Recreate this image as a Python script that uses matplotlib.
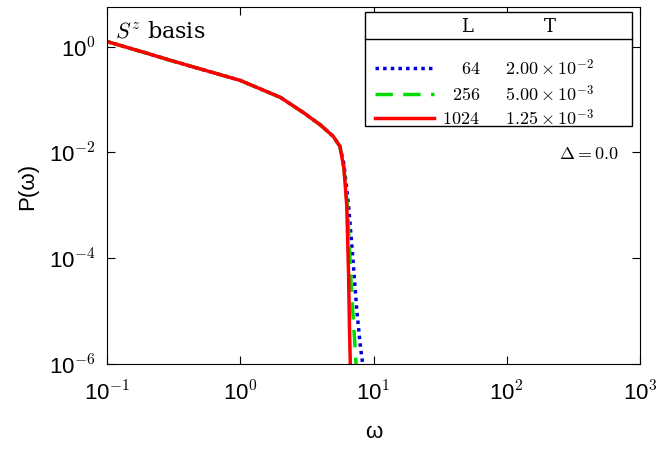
import numpy as np
import matplotlib
matplotlib.use("Agg")
import matplotlib.pyplot as plt
from matplotlib.lines import Line2D
from matplotlib.patches import Rectangle

omega_common = [0.1, 0.2, 0.3, 0.5, 1.0, 2.0, 3.0, 4.0, 5.0, 5.6]
p_common = [1.25, 0.75, 0.55, 0.38, 0.23, 0.11, 0.056, 0.033, 0.020, 0.013]
omega_64 = omega_common + [6.0, 6.5, 7.0, 7.5, 8.0, 8.3]
p_64 = p_common + [0.006, 1e-3, 1e-4, 1e-5, 2e-6, 1e-6]
omega_256 = omega_common + [6.0, 6.4, 6.8, 7.2, 7.4]
p_256 = p_common + [0.005, 8e-4, 3e-5, 3e-6, 1e-6]
omega_1024 = omega_common + [6.0, 6.3, 6.5, 6.6, 6.7]
p_1024 = p_common + [0.005, 1e-3, 5e-5, 5e-6, 1e-6]
L_labels = ["64", "256", "1024"]
T_labels = [r"$2.00\times10^{-2}$", r"$5.00\times10^{-3}$", r"$1.25\times10^{-3}$"]

plt.rcParams['mathtext.fontset'] = 'cm'
fig = plt.figure(figsize=(6.64, 4.52), dpi=100)
ax = fig.add_axes([107/664, 1-365/452, 533/664, 357/452])
styles = [dict(color='#0000dd', ls=(0, (1, 1.2)), lw=2.5),
          dict(color='#00dd00', ls=(0, (5, 3)), lw=2.5),
          dict(color='#ff0000', ls='-', lw=2.5)]
for (x, y), st in zip([(omega_64, p_64), (omega_256, p_256), (omega_1024, p_1024)], styles):
    ax.plot(x, y, **st)
ax.set_xscale('log'); ax.set_yscale('log')
ax.set_xlim(0.1, 1000); ax.set_ylim(1e-6, 10**0.75)
ax.set_xticks([0.1, 1, 10, 100, 1000])
ax.set_xticklabels([r"10$^{-1}$", r"10$^{0}$", r"10$^{1}$", r"10$^{2}$", r"10$^{3}$"])
ax.set_yticks([1e-6, 1e-4, 1e-2, 1])
ax.set_yticklabels([r"10$^{-6}$", r"10$^{-4}$", r"10$^{-2}$", r"10$^{0}$"])
ax.minorticks_off()
ax.tick_params(labelsize=16, direction='in', length=6, top=True, right=True)
ax.tick_params(axis='x', pad=12)
ax.tick_params(axis='y', pad=8)
for lab in ax.get_xticklabels() + ax.get_yticklabels():
    lab.set_fontfamily('Liberation Sans')
ax.set_xlabel("ω", fontsize=16, family='Liberation Sans', labelpad=12)
ax.set_ylabel("P(ω)", fontsize=16, family='Liberation Sans', labelpad=8)
ax.text(0.015, 0.965, r"$S^z$ basis", transform=ax.transAxes, fontsize=16, va='top', family='serif')
ax.text(0.96, 0.59, r"$\Delta = 0.0$", transform=ax.transAxes, fontsize=13, ha='right', va='center')

ax.add_patch(Rectangle((0.484, 0.667), 0.501, 0.319, transform=ax.transAxes, fill=True,
                       facecolor='white', edgecolor='black', lw=1, zorder=5))
ax.add_line(Line2D([0.484, 0.985], [0.910, 0.910], transform=ax.transAxes, color='black', lw=1, zorder=6))
ax.text(0.675, 0.947, "L", transform=ax.transAxes, ha='center', va='center', fontsize=13, family='serif', zorder=6)
ax.text(0.83, 0.947, "T", transform=ax.transAxes, ha='center', va='center', fontsize=13, family='serif', zorder=6)
for yy, st, L, T in zip([0.829, 0.756, 0.689], styles, L_labels, T_labels):
    ax.add_line(Line2D([0.502, 0.614], [yy, yy], transform=ax.transAxes, zorder=6, **st))
    ax.text(0.70, yy, "$" + L + "$", transform=ax.transAxes, ha='right', va='center', fontsize=13, zorder=6)
    ax.text(0.83, yy, T, transform=ax.transAxes, ha='center', va='center', fontsize=13, zorder=6)
fig.savefig("out.png", dpi=100)
